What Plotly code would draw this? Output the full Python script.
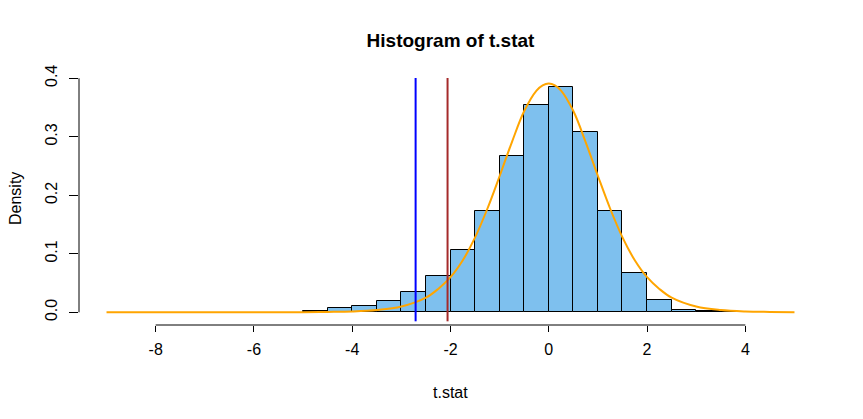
import plotly.graph_objects as go

# Histogram bins (left edges, width 0.5) and densities
bin_left = [-5.0, -4.5, -4.0, -3.5, -3.0, -2.5, -2.0, -1.5, -1.0, -0.5,
            0.0, 0.5, 1.0, 1.5, 2.0, 2.5, 3.0, 3.5]
bin_width = 0.5
density = [0.0030, 0.0068, 0.0108, 0.0188, 0.0347, 0.0615, 0.106, 0.174, 0.268, 0.354,
           0.385, 0.308, 0.174, 0.068, 0.0205, 0.0048, 0.0017, 0.0008]

# Orange density curve
curve_x = [-9, -8, -7, -6, -5, -4.5, -4, -3.5, -3, -2.5, -2.25, -2, -1.75, -1.5, -1.25,
           -1, -0.75, -0.5, -0.25, -0.125, 0, 0.125, 0.25, 0.5, 0.75, 1, 1.25, 1.5, 1.75,
           2, 2.25, 2.5, 3, 3.5, 4, 4.5, 5]
curve_y = [0.0000, 0.0000, 0.0001, 0.0001, 0.0002, 0.0006, 0.0014, 0.0038, 0.0098, 0.0250,
           0.040, 0.060, 0.089, 0.128, 0.177, 0.233, 0.291, 0.344, 0.379, 0.388, 0.391,
           0.388, 0.379, 0.344, 0.291, 0.233, 0.177, 0.128, 0.089, 0.060, 0.040, 0.0250,
           0.0098, 0.0038, 0.0014, 0.0006, 0.0002]

# Vertical reference lines
blue_x = -2.71
brown_x = -2.06

x_ticks = [-8, -6, -4, -2, 0, 2, 4]
y_ticks = [0.0, 0.1, 0.2, 0.3, 0.4]
y_tick_text = ["0.0", "0.1", "0.2", "0.3", "0.4"]

FONT = "Liberation Sans, Arial, sans-serif"

bin_centers = [b + bin_width / 2 for b in bin_left]

fig = go.Figure()
fig.add_trace(go.Bar(
    x=bin_centers, y=density, width=[bin_width] * len(bin_left),
    marker=dict(color="#7EC0EE", line=dict(color="black", width=1)),
    hoverinfo="skip",
))
fig.add_trace(go.Scatter(
    x=curve_x, y=curve_y, mode="lines",
    line=dict(color="#FFA500", width=2, shape="spline", smoothing=1.0),
    hoverinfo="skip",
))

y_min_line = -0.0154
y_max = 0.4005

# axis lines (R style, only spanning tick range)
fig.add_shape(type="line", xref="x", yref="paper", x0=x_ticks[0], x1=x_ticks[-1], y0=0, y1=0,
              line=dict(color="black", width=1))
fig.add_shape(type="line", xref="paper", yref="y", x0=0, x1=0, y0=y_ticks[0], y1=y_ticks[-1],
              line=dict(color="black", width=1))
# abline lines
fig.add_shape(type="line", xref="x", yref="y", x0=blue_x, x1=blue_x, y0=y_min_line, y1=y_max,
              line=dict(color="#0000FF", width=2), layer="above")
fig.add_shape(type="line", xref="x", yref="y", x0=brown_x, x1=brown_x, y0=y_min_line, y1=y_max,
              line=dict(color="#A52A2A", width=2), layer="above")

# page body has an 8px margin, so the figure is offset by 8px
W, H = 855, 411

fig.update_layout(
    width=W, height=H,
    margin=dict(l=71, r=41, t=70, b=94),
    paper_bgcolor="white", plot_bgcolor="white",
    showlegend=False, bargap=0,
    font=dict(family=FONT, size=16, color="black"),
    title=dict(text="<b>Histogram of t.stat</b>", x=0.5, xref="paper", xanchor="center",
               y=1 - 32 / H, yref="container", yanchor="middle",
               font=dict(family=FONT, size=19, color="black")),
    xaxis=dict(range=[-9.56, 5.56], tickvals=x_ticks, ticktext=[str(v) for v in x_ticks],
               ticks="outside", ticklen=6, tickcolor="black", tickwidth=1,
               showline=False, showgrid=False, zeroline=False,
               tickfont=dict(family=FONT, size=16, color="black"), ticklabelstandoff=4),
    yaxis=dict(range=[-0.0217, y_max], tickvals=y_ticks, ticktext=y_tick_text,
               ticks="outside", ticklen=9, tickcolor="black", tickwidth=1, tickangle=-90,
               showline=False, showgrid=False, zeroline=False,
               tickfont=dict(family=FONT, size=16, color="black"), ticklabelstandoff=6),
    annotations=[
        dict(text="t.stat", xref="paper", yref="paper", x=0.5, y=(325 - 392) / 247,
             xanchor="center", yanchor="middle", showarrow=False,
             font=dict(family=FONT, size=16, color="black")),
        dict(text="Density", xref="paper", yref="paper", x=(15 - 79) / 743, y=(325 - 199) / 247,
             xanchor="center", yanchor="middle", showarrow=False, textangle=-90,
             font=dict(family=FONT, size=16, color="black")),
    ],
)

fig.write_html("out.html")
